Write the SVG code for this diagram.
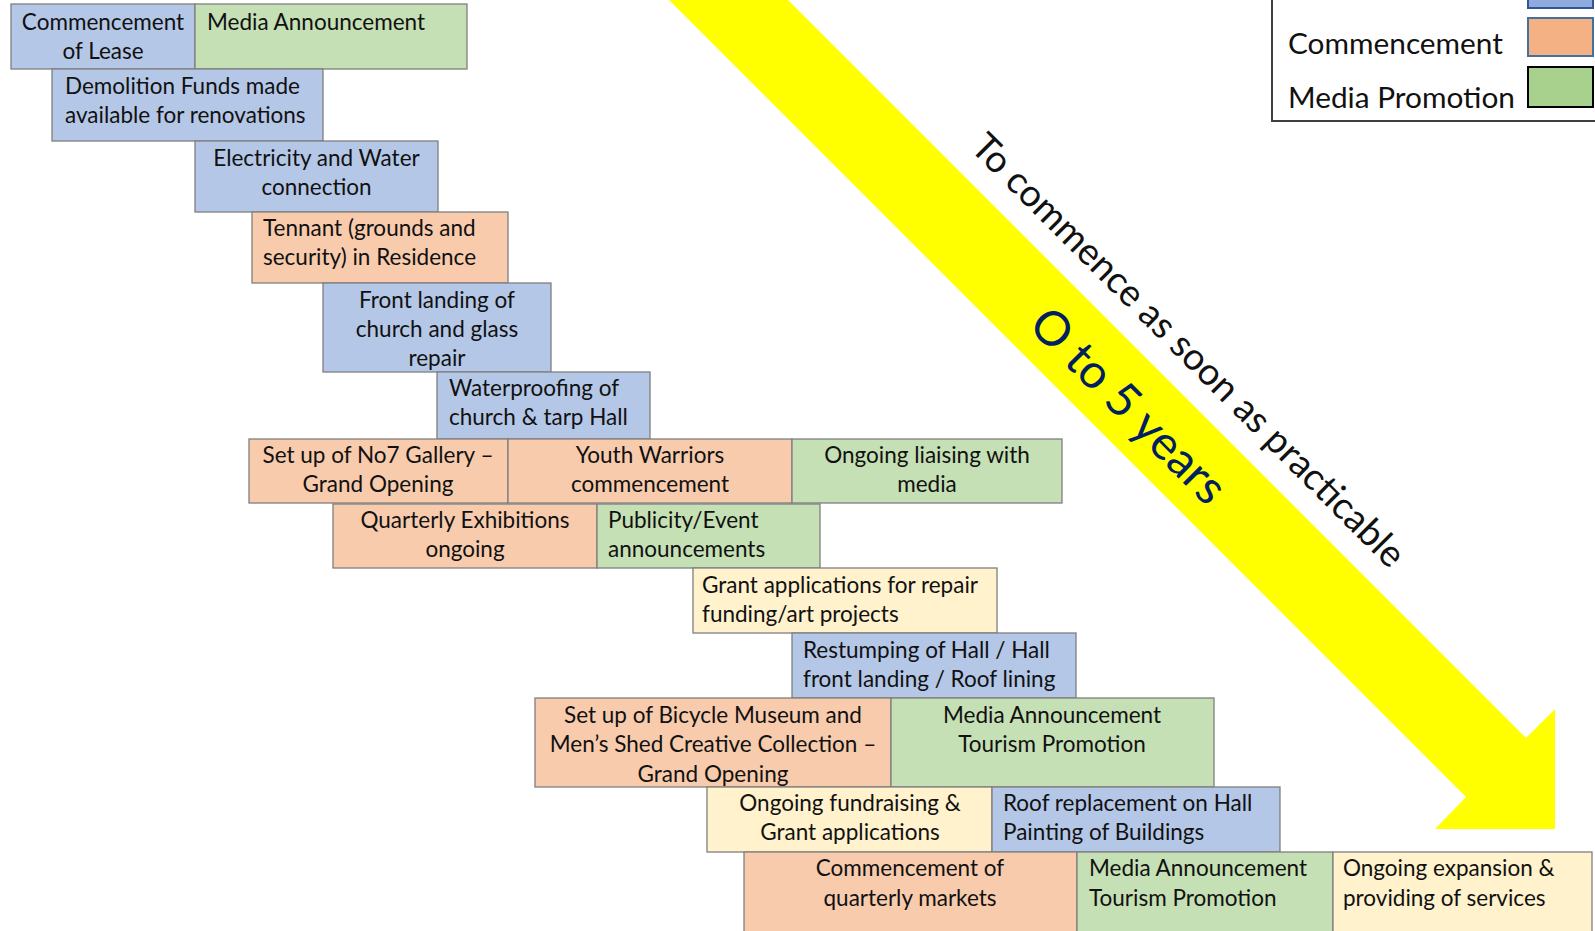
<svg xmlns="http://www.w3.org/2000/svg" width="1595" height="931" viewBox="0 0 1595 931">
<style>
rect.b{fill:#B4C7E7;stroke:#7F7F7F;stroke-width:1.3}
rect.o{fill:#F8CBAD;stroke:#7F7F7F;stroke-width:1.3}
rect.g{fill:#C5E0B4;stroke:#7F7F7F;stroke-width:1.3}
rect.y{fill:#FFF2CC;stroke:#7F7F7F;stroke-width:1.3}
text{font-family:Lato,"Liberation Sans",sans-serif;fill:#111}
.t{font-size:22.5px}
.m{text-anchor:middle}
.lg{font-size:29.8px}
</style>
<rect width="1595" height="931" fill="#fff"/>
<g id="arrow">
<polygon points="649,-20 768,-20 1526,738 1555,709 1555,829 1435,829 1466,797" fill="#FFFF00"/>
<text transform="translate(969,149) rotate(45)" style="font-size:37.5px">To commence as soon as practicable</text>
<text transform="translate(1027,327) rotate(45)" style="font-size:47.5px;fill:#002060">O to 5 years</text>
</g>
<g id="legend">
<rect x="1272" y="-5" width="330" height="126" fill="#fff" stroke="#404040" stroke-width="2"/>
<rect x="1528" y="-5" width="65" height="13" fill="#8FAADC" stroke="#2F5597" stroke-width="2"/>
<rect x="1528" y="18" width="65" height="38" fill="#F4B183" stroke="#41719C" stroke-width="2"/>
<rect x="1528" y="67" width="65" height="40" fill="#A9D18E" stroke="#000" stroke-width="2"/>
<text class="lg" x="1288" y="54">Commencement</text>
<text class="lg" x="1288" y="108">Media Promotion</text>
</g>
<g id="n1"><rect class="b" x="11" y="4" width="184" height="65"/><text class="t m" x="103" y="29.5">Commencement</text><text class="t m" x="103" y="59">of Lease</text></g>
<g id="n2"><rect class="g" x="195" y="4" width="272" height="65"/><text class="t" x="207" y="29.5">Media Announcement</text></g>
<g id="n3"><rect class="b" x="52" y="69" width="271" height="72"/><text class="t" x="65" y="93.5">Demolition Funds made</text><text class="t" x="65" y="123">available for renovations</text></g>
<g id="n4"><rect class="b" x="195" y="141" width="243" height="71"/><text class="t m" x="316.5" y="165.5">Electricity and Water</text><text class="t m" x="316.5" y="194.5">connection</text></g>
<g id="n5"><rect class="o" x="252" y="212" width="256" height="71"/><text class="t" x="263" y="236">Tennant (grounds and</text><text class="t" x="263" y="265">security) in Residence</text></g>
<g id="n6"><rect class="b" x="323" y="283" width="228" height="89"/><text class="t m" x="437" y="308">Front landing of</text><text class="t m" x="437" y="337">church and glass</text><text class="t m" x="437" y="366">repair</text></g>
<g id="n7"><rect class="b" x="437" y="372" width="213" height="67"/><text class="t" x="449" y="396">Waterproofing of</text><text class="t" x="449" y="425">church &amp; tarp Hall</text></g>
<g id="n8"><rect class="o" x="249" y="439" width="259" height="64"/><text class="t m" x="378" y="463">Set up of No7 Gallery –</text><text class="t m" x="378" y="492">Grand Opening</text></g>
<g id="n9"><rect class="o" x="508" y="439" width="284" height="64"/><text class="t m" x="650" y="463">Youth Warriors</text><text class="t m" x="650" y="492">commencement</text></g>
<g id="n10"><rect class="g" x="792" y="439" width="270" height="64"/><text class="t m" x="927" y="463">Ongoing liaising with</text><text class="t m" x="927" y="492">media</text></g>
<g id="n11"><rect class="o" x="333" y="504" width="264" height="64"/><text class="t m" x="465" y="528">Quarterly Exhibitions</text><text class="t m" x="465" y="557">ongoing</text></g>
<g id="n12"><rect class="g" x="597" y="504" width="223" height="64"/><text class="t" x="608" y="528">Publicity/Event</text><text class="t" x="608" y="557">announcements</text></g>
<g id="n13"><rect class="y" x="693" y="568" width="304" height="65"/><text class="t" x="702" y="593">Grant applications for repair</text><text class="t" x="702" y="622">funding/art projects</text></g>
<g id="n14"><rect class="b" x="792" y="633" width="284" height="65"/><text class="t" x="803" y="658">Restumping of Hall / Hall</text><text class="t" x="803" y="687">front landing / Roof lining</text></g>
<g id="n15"><rect class="o" x="535" y="698" width="356" height="89"/><text class="t m" x="713" y="723">Set up of Bicycle Museum and</text><text class="t m" x="713" y="752">Men’s Shed Creative Collection –</text><text class="t m" x="713" y="782">Grand Opening</text></g>
<g id="n16"><rect class="g" x="891" y="698" width="323" height="89"/><text class="t m" x="1052" y="723">Media Announcement</text><text class="t m" x="1052" y="752">Tourism Promotion</text></g>
<g id="n17"><rect class="y" x="707" y="787" width="285" height="65"/><text class="t m" x="850" y="811">Ongoing fundraising &amp;</text><text class="t m" x="850" y="840">Grant applications</text></g>
<g id="n18"><rect class="b" x="992" y="787" width="288" height="65"/><text class="t" x="1003" y="811">Roof replacement on Hall</text><text class="t" x="1003" y="840">Painting of Buildings</text></g>
<g id="n19"><rect class="o" x="744" y="852" width="333" height="90"/><text class="t m" x="910" y="876">Commencement of</text><text class="t m" x="910" y="906">quarterly markets</text></g>
<g id="n20"><rect class="g" x="1077" y="852" width="256" height="90"/><text class="t" x="1089" y="876">Media Announcement</text><text class="t" x="1089" y="906">Tourism Promotion</text></g>
<g id="n21"><rect class="y" x="1333" y="852" width="259" height="90"/><text class="t" x="1343" y="876">Ongoing expansion &amp;</text><text class="t" x="1343" y="906">providing of services</text></g>
</svg>
